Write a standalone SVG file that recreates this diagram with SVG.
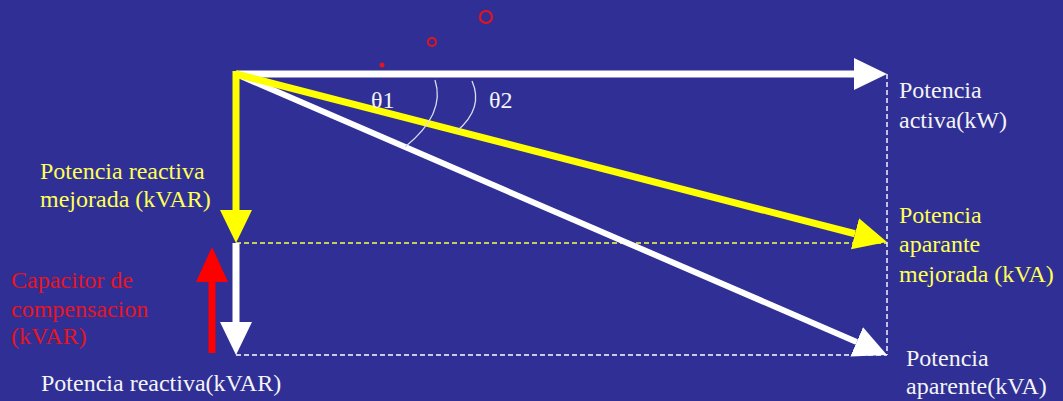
<svg xmlns="http://www.w3.org/2000/svg" width="1063" height="401" viewBox="0 0 1063 401">
<defs>
<style>
text{font-family:"Liberation Serif","Times New Roman","DejaVu Serif",serif;font-size:24px}
.w{fill:#f4f4f4}
.y{fill:#ffff55}
.r{fill:#e8141c}
.dash{stroke-width:1.4;stroke-dasharray:5 3;fill:none}
.arc{stroke:#dcdcf0;stroke-width:1.3;fill:none}
</style>
<marker id="aw" markerUnits="userSpaceOnUse" markerWidth="34" markerHeight="34" refX="0" refY="16" orient="auto"><path d="M0,0 L33,16 L0,32 z" fill="#ffffff"/></marker>
<marker id="ay" markerUnits="userSpaceOnUse" markerWidth="34" markerHeight="34" refX="0" refY="16" orient="auto"><path d="M0,0 L33,16 L0,32 z" fill="#ffff00"/></marker>
<marker id="ar" markerUnits="userSpaceOnUse" markerWidth="36" markerHeight="34" refX="0" refY="16" orient="auto"><path d="M0,0 L35,16 L0,32 z" fill="#ff0000"/></marker>
</defs>
<rect width="1063" height="401" fill="#2f2f96"/>
<g id="marks">
<circle cx="382" cy="65" r="2.5" fill="#e8141c"/>
<circle cx="432" cy="42" r="4" fill="none" stroke="#e8141c" stroke-width="2"/>
<circle cx="486" cy="17" r="6" fill="none" stroke="#e8141c" stroke-width="2.2"/>
</g>
<g id="guides">
<line class="dash" x1="236" y1="243" x2="887" y2="243" stroke="#ffff44"/>
<line class="dash" x1="236" y1="355" x2="887" y2="355" stroke="#ffffff"/>
<line class="dash" x1="887" y1="74" x2="887" y2="355" stroke="#ffffff"/>
</g>
<g id="connectors">
<line x1="236" y1="74" x2="854" y2="74" stroke="#ffffff" stroke-width="7" marker-end="url(#aw)"/>
<line x1="236" y1="74" x2="856.7" y2="341.9" stroke="#ffffff" stroke-width="6" marker-end="url(#aw)"/>
<line x1="236" y1="243" x2="236" y2="322" stroke="#ffffff" stroke-width="7" marker-end="url(#aw)"/>
<line x1="236" y1="74" x2="855" y2="233.75" stroke="#ffff00" stroke-width="7" marker-end="url(#ay)"/>
<line x1="236" y1="71" x2="236" y2="210" stroke="#ffff00" stroke-width="7" marker-end="url(#ay)"/>
<line x1="212" y1="353" x2="212" y2="282" stroke="#ff0000" stroke-width="7" marker-end="url(#ar)"/>
</g>
<g id="angles">
<path class="arc" d="M435,80 Q446,114 405,147"/>
<path class="arc" d="M472,81 Q484,108 457,131"/>
<text class="w" x="371" y="108">θ1</text>
<text class="w" x="489" y="108">θ2</text>
</g>
<g id="label-activa">
<text class="w" x="899" y="98">Potencia</text>
<text class="w" x="899" y="128">activa(kW)</text>
</g>
<g id="label-aparente-mejorada">
<text class="y" x="899" y="223">Potencia</text>
<text class="y" x="899" y="252">aparante</text>
<text class="y" x="899" y="282">mejorada (kVA)</text>
</g>
<g id="label-aparente">
<text class="w" x="906" y="366">Potencia</text>
<text class="w" x="906" y="394">aparente(kVA)</text>
</g>
<g id="label-reactiva-mejorada">
<text class="y" x="40" y="179">Potencia reactiva</text>
<text class="y" x="40" y="207">mejorada (kVAR)</text>
</g>
<g id="label-capacitor">
<text class="r" x="11" y="288">Capacitor de</text>
<text class="r" x="11" y="317">compensacion</text>
<text class="r" x="11" y="344">(kVAR)</text>
</g>
<g id="label-reactiva">
<text class="w" x="41" y="391">Potencia reactiva(kVAR)</text>
</g>
</svg>
